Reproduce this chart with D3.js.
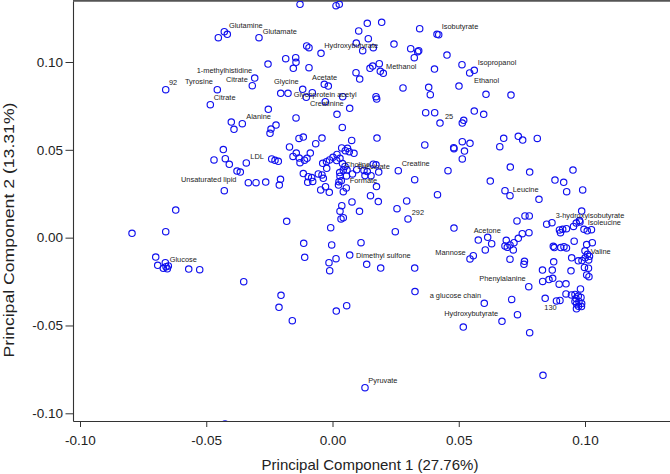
<!DOCTYPE html>
<html>
<head>
<meta charset="utf-8">
<script src="https://cdn.jsdelivr.net/npm/d3@7"></script>
<style>
  html, body { margin: 0; padding: 0; background: #fff; }
  svg { display: block; font-family: "Liberation Sans", Arial, sans-serif; }
</style>
</head>
<body>
<svg id="chart" width="670" height="474"></svg>
<script>
// ---- data (PC1, PC2 scores) ----
const pc1 = [
 -0.04522,-0.04285,-0.04166,-0.02911,-0.02554,-0.03081,-0.03176,-0.06605,-0.04562,-0.04839,
 -0.02542,-0.04008,-0.03901,-0.03572,-0.02435,-0.02475,-0.04324,-0.04693,-0.04245,-0.04087,
 -0.03414,-0.03782,-0.03651,-0.03334,-0.03029,-0.02645,-0.04285,-0.06209,-0.0794,-0.06605,
 -0.07001,-0.06922,-0.06621,-0.067,-0.06593,-0.06502,-0.06542,-0.05694,-0.05259,-0.03516,
 -0.02039,-0.02119,-0.01592,0.0015,0.00562,-0.04257,-0.01287,0.00139,0.00269,0.01378,
 0.01948,0.01038,0.03453,0.04138,0.01418,-0.01022,-0.00931,-0.00455,0.00942,0.01196,
 0.01616,0.02435,0.03097,0.03414,0.03374,0.03239,-0.01853,-0.01457,-0.01445,-0.01552,
 -0.00931,0.01853,0.01485,0.01592,0.00931,0.01077,0.01893,0.02012,0.04039,-0.00325,
 -0.00166,-0.0118,-0.008,-0.02051,-0.01762,-0.01038,0.00404,-0.00285,0.01723,0.0175,
 0.02792,0.0381,0.03873,0.00681,0.00178,-0.01445,0.03691,0.04047,0.04257,-0.02237,
 0.00388,0.01762,0.03655,-0.01156,-0.01327,-0.00416,-0.00665,-0.01703,0.0076,0.00364,
 0.00594,0.00507,0.00665,0.04206,0.04534,0.05128,0.05433,0.05615,0.05009,0.06079,
 0.07069,0.0514,0.05196,0.05615,0.05988,0.0678,0.07358,0.07532,0.0811,0.0514,
 0.05445,0.048,0.06625,0.05227,0.00851,-0.01434,-0.01564,-0.01319,-0.01287,-0.02408,
 -0.02277,-0.02146,-0.00879,-0.0101,-0.01109,-0.00388,-0.00238,-0.00119,0.00178,0.0002,
 0.00297,0.00166,0.00396,0.00495,0.00574,0.00792,0.00958,0.01247,0.01378,0.01616,
 0.01723,0.0183,0.01287,0.01525,-0.01156,-0.00958,-0.00824,-0.00784,-0.00982,-0.00562,
 -0.00416,-0.00364,-0.0023,0.00285,0.00428,0.00297,0.00554,0.00257,0.00348,-0.02059,
 -0.02107,-0.00277,-0.00467,-0.00127,0.00238,0.00428,0.00546,0.01742,0.02606,0.03255,
 0.01505,0.01814,0.00772,0.00368,0.00297,0.01069,0.00337,0.00428,0.02938,0.02554,
 0.0299,-0.01814,-0.00071,0.02487,0.04158,-0.0114,-0.00032,0.01129,-0.01101,0.00681,
 0.00139,-0.00139,-0.00111,0.01354,0.01909,0.03255,0.03267,0.04811,0.0514,0.04574,
 0.07041,0.07809,0.09524,0.06249,0.08811,0.09156,0.09274,0.09908,0.06831,0.07029,
 0.08177,0.04811,0.07306,0.07623,0.07793,0.08482,0.08692,0.09868,0.08989,0.09116,
 0.09266,0.09029,0.09544,0.09654,0.09781,0.09801,0.09959,0.1009,0.10256,0.05774,
 0.06146,0.06051,0.06304,0.06882,0.06831,0.06922,0.07029,0.0716,0.07187,0.07358,
 0.07516,0.07781,0.07029,0.05445,0.05576,0.07603,0.07583,0.08744,0.08783,0.09041,
 0.09167,0.09266,0.09571,0.10066,0.10288,0.09999,0.10098,0.10177,0.10007,0.10146,
 0.09472,0.09734,0.0988,0.0876,0.09979,0.10138,0.09445,0.08316,0.08704,0.10066,
 0.10157,0.08324,0.08573,0.0872,0.08977,0.09247,0.07773,0.09821,0.09247,0.09464,
 0.09603,0.09734,0.09643,0.09841,0.09603,0.09761,0.0967,0.09868,0.09742,0.09662,
 0.0986,0.08423,0.0887,0.09009,0.07096,0.07326,0.06011,0.06712,0.0518,0.07809,
 0.08336,0.01287
];
const pc2 = [
 0.11383,0.11725,0.11577,0.11383,0.09886,0.09089,0.08651,0.08423,0.08423,0.07569,
 0.07307,0.06584,0.06168,0.06487,0.06185,0.05941,0.05018,0.04421,0.04495,0.04176,
 0.0425,0.03794,0.03737,0.03128,0.03128,0.03168,0.02673,0.01574,0.00248,0.00339,
 -0.01102,-0.01574,-0.01426,-0.01745,-0.01654,-0.01614,-0.01773,-0.01785,-0.01825,-0.02508,
 -0.03282,-0.03965,-0.04728,-0.04176,-0.03874,-0.10609,0.13285,0.13205,0.13285,0.12203,
 0.1226,0.11765,0.11895,0.11577,0.11326,0.10911,0.10814,0.10495,0.11081,0.10643,
 0.10814,0.11024,0.10757,0.10643,0.10586,0.10245,0.10188,0.10245,0.09983,0.09641,
 0.09675,0.09903,0.09641,0.09772,0.09391,0.09032,0.0947,0.09357,0.09601,0.0873,
 0.08633,0.08446,0.08252,0.08218,0.08218,0.0799,0.08024,0.0774,0.08024,0.07893,
 0.0852,0.08559,0.08138,0.07364,0.07022,0.06812,0.07113,0.07113,0.06527,0.06413,
 0.06271,0.05673,0.05275,0.0573,0.05645,0.05673,0.05349,0.05161,0.05531,0.05104,
 0.05087,0.0495,0.04893,0.11554,0.10398,0.09846,0.09374,0.09527,0.08633,0.08161,
 0.08121,0.06527,0.06681,0.0721,0.07022,0.05656,0.0577,0.05559,0.05645,0.05462,
 0.05371,0.05121,0.05178,0.04933,0.04802,0.04819,0.0462,0.04534,0.04267,0.04478,
 0.04404,0.04347,0.04819,0.04517,0.04409,0.04233,0.04324,0.04421,0.04734,0.04574,
 0.04517,0.04392,0.04221,0.04051,0.03851,0.03624,0.03868,0.03823,0.03766,0.04182,
 0.04147,0.03737,0.03538,0.03527,0.03652,0.0347,0.03424,0.03197,0.03151,0.03624,
 0.03567,0.03379,0.03948,0.03709,0.03851,0.03493,0.0351,0.03185,0.03242,0.03322,
 0.02997,0.029,0.02713,0.02582,0.02997,0.02616,0.02827,0.02912,0.03811,0.03299,
 0.02388,0.02058,0.0203,0.01819,0.01506,0.015,0.01062,0.01136,0.02087,0.01648,
 0.01062,0.00931,0.00566,0.00339,0.02445,-0.00322,-0.00418,-0.00288,-0.01119,-0.00988,
 -0.01198,-0.01426,-0.01882,-0.01517,-0.01728,-0.01728,-0.03066,0.05064,0.04478,0.03811,
 0.04022,0.03737,0.03851,0.03225,0.03282,0.03151,0.02616,0.02713,0.02673,0.02388,
 0.02183,0.00549,0.00948,0.01233,0.01233,0.00766,0.00851,0.01517,0.00436,0.00475,
 0.0051,0.00282,0.00635,0.00834,0.00976,0.00891,0.00475,0.0039,0.00453,-0.00134,
 0.0002,-0.00703,-0.00344,-0.00151,-0.00475,-0.00549,-0.00418,-0.00703,-0.00288,-0.00037,
 0.00225,0.00282,-0.01227,-0.01215,-0.01028,-0.01346,-0.01517,-0.00492,-0.00561,-0.00566,
 -0.00515,-0.00589,-0.00202,-0.0039,-0.00288,-0.00749,-0.00948,-0.01062,-0.01147,-0.01272,
 -0.01147,-0.01318,-0.01301,-0.01375,-0.01699,-0.01739,-0.01887,-0.01842,-0.01842,-0.02126,
 -0.02223,-0.02496,-0.02383,-0.02314,-0.0265,-0.02627,-0.02792,-0.02923,-0.03208,-0.03265,
 -0.03236,-0.03322,-0.03464,-0.03407,-0.03635,-0.03635,-0.03777,-0.03749,-0.03908,-0.04051,
 -0.0392,-0.03453,-0.03606,-0.03578,-0.03521,-0.04386,-0.03737,-0.04762,-0.05087,-0.05411,
 -0.07836,-0.08542
];

// ---- point annotations: label text and position (PC1, PC2 of label start) ----
const labelNames = ["Glutamine","Glutamate","1-methylhistidine","Citrate","92","Tyrosine","Citrate","Alanine",
  "Hydroxybutyrate","Methanol","Glycine","Acetate","Glycoprotein acetyl","Creatinine","Isobutyrate",
  "Isopropanol","Ethanol","25","LDL","Unsaturated lipid","Glucose","Choline","Succinate","Formate",
  "Creatine","292","Dimethyl sulfone","Leucine","3-hydroxyisobutyrate","Isoleucine","Valine","Acetone",
  "Mannose","Phenylalanine","a glucose chain","Hydroxybutyrate","130","Pyruvate"];
const labelPC1 = [-0.041,-0.02764,-0.05378,-0.04217,-0.06475,-0.05841,-0.04704,-0.03414,
  -0.00325,0.02119,-0.02317,-0.00812,-0.01536,-0.00891,0.04324,
  0.0575,0.05603,0.04455,-0.03255,-0.06,-0.06447,0.00495,0.00982,0.00681,
  0.0274,0.03136,0.0093,0.07136,0.08839,0.10106,0.10225,0.05591,
  0.04071,0.05813,0.03849,0.04427,0.08387,0.01418];
const labelPC2 = [0.12106,0.11765,0.09527,0.09015,0.08821,0.08878,0.07967,0.06886,
  0.10928,0.09772,0.08901,0.09129,0.08161,0.07626,0.12009,
  0.0996,0.08975,0.06926,0.04631,0.03339,-0.01233,0.04193,0.04079,0.03242,
  0.0421,0.0146,-0.00988,0.0277,0.01272,0.00891,-0.0076,0.00418,
  -0.00834,-0.02337,-0.03305,-0.0433,-0.03988,-0.08104];

const xTicks = [-0.10, -0.05, 0.00, 0.05, 0.10];
const yTicks = [-0.10, -0.05, 0.00, 0.05, 0.10];
const xTitle = "Principal Component 1 (27.76%)";
const yTitle = "Principal Component 2 (13.31%)";

// ---- layout ----
const W = 670, H = 474;
const frame = { left: 73, right: 670, top: 1, bottom: 421 };

const xBase = d3.scaleLinear().domain([-0.10, 0.10]).range([80, 585]);
const yBase = d3.scaleLinear().domain([-0.10, 0.10]).range([413.3, 62]);
const x = d3.scaleLinear()
  .domain([xBase.invert(frame.left), xBase.invert(frame.right)])
  .range([frame.left, frame.right]);
const y = d3.scaleLinear()
  .domain([yBase.invert(frame.bottom), yBase.invert(frame.top)])
  .range([frame.bottom, frame.top]);

const svg = d3.select("#chart");
const fmt = d => d3.format(".2f")(d).replace("\u2212", "-");

svg.append("defs").append("clipPath").attr("id", "plotclip")
  .append("rect")
  .attr("x", frame.left).attr("y", frame.top)
  .attr("width", frame.right - frame.left).attr("height", frame.bottom - frame.top);

// top border
svg.append("line")
  .attr("x1", frame.left).attr("x2", frame.right)
  .attr("y1", 0.8).attr("y2", 0.8)
  .attr("stroke", "#555").attr("stroke-width", 1.8);

// points
const pts = pc1.map((v, i) => ({ x: v, y: pc2[i] }));
svg.append("g").attr("clip-path", "url(#plotclip)")
  .selectAll("circle").data(pts).join("circle")
  .attr("cx", d => x(d.x)).attr("cy", d => y(d.y))
  .attr("r", 3.2)
  .attr("fill", "none")
  .attr("stroke", "#1010ee")
  .attr("stroke-width", 1.15);

// labels
const labs = labelNames.map((n, i) => ({ n, x: labelPC1[i], y: labelPC2[i] }));
svg.append("g").selectAll("text").data(labs).join("text")
  .attr("x", d => x(d.x)).attr("y", d => y(d.y))
  .attr("dy", "0.35em")
  .attr("font-size", 7.4)
  .attr("fill", "#222")
  .text(d => d.n);

// axes
const xAxis = svg.append("g")
  .attr("transform", `translate(0,${frame.bottom})`)
  .call(d3.axisBottom(x).tickValues(xTicks).tickFormat(fmt).tickSize(6).tickSizeOuter(0).tickPadding(8));
const yAxis = svg.append("g")
  .attr("transform", `translate(${frame.left},0)`)
  .call(d3.axisLeft(y).tickValues(yTicks).tickFormat(fmt).tickSize(7.5).tickSizeOuter(0).tickPadding(2.5));

[xAxis, yAxis].forEach(g => {
  g.select(".domain").attr("stroke", "#333").attr("stroke-width", 1.1);
  g.selectAll(".tick line").attr("stroke", "#333").attr("stroke-width", 1);
  g.selectAll(".tick text").attr("fill", "#222")
    .attr("font-size", 13.5)
    .attr("font-family", "Liberation Sans, Arial, sans-serif");
});

// axis titles
svg.append("text")
  .attr("x", 370).attr("y", 470)
  .attr("text-anchor", "middle")
  .attr("font-size", 15)
  .attr("fill", "#222")
  .text(xTitle);

svg.append("text")
  .attr("transform", "translate(14,230) rotate(-90)")
  .attr("text-anchor", "middle")
  .attr("font-size", 15)
  .attr("fill", "#222")
  .attr("textLength", 255)
  .attr("lengthAdjust", "spacingAndGlyphs")
  .text(yTitle);
</script>
</body>
</html>
